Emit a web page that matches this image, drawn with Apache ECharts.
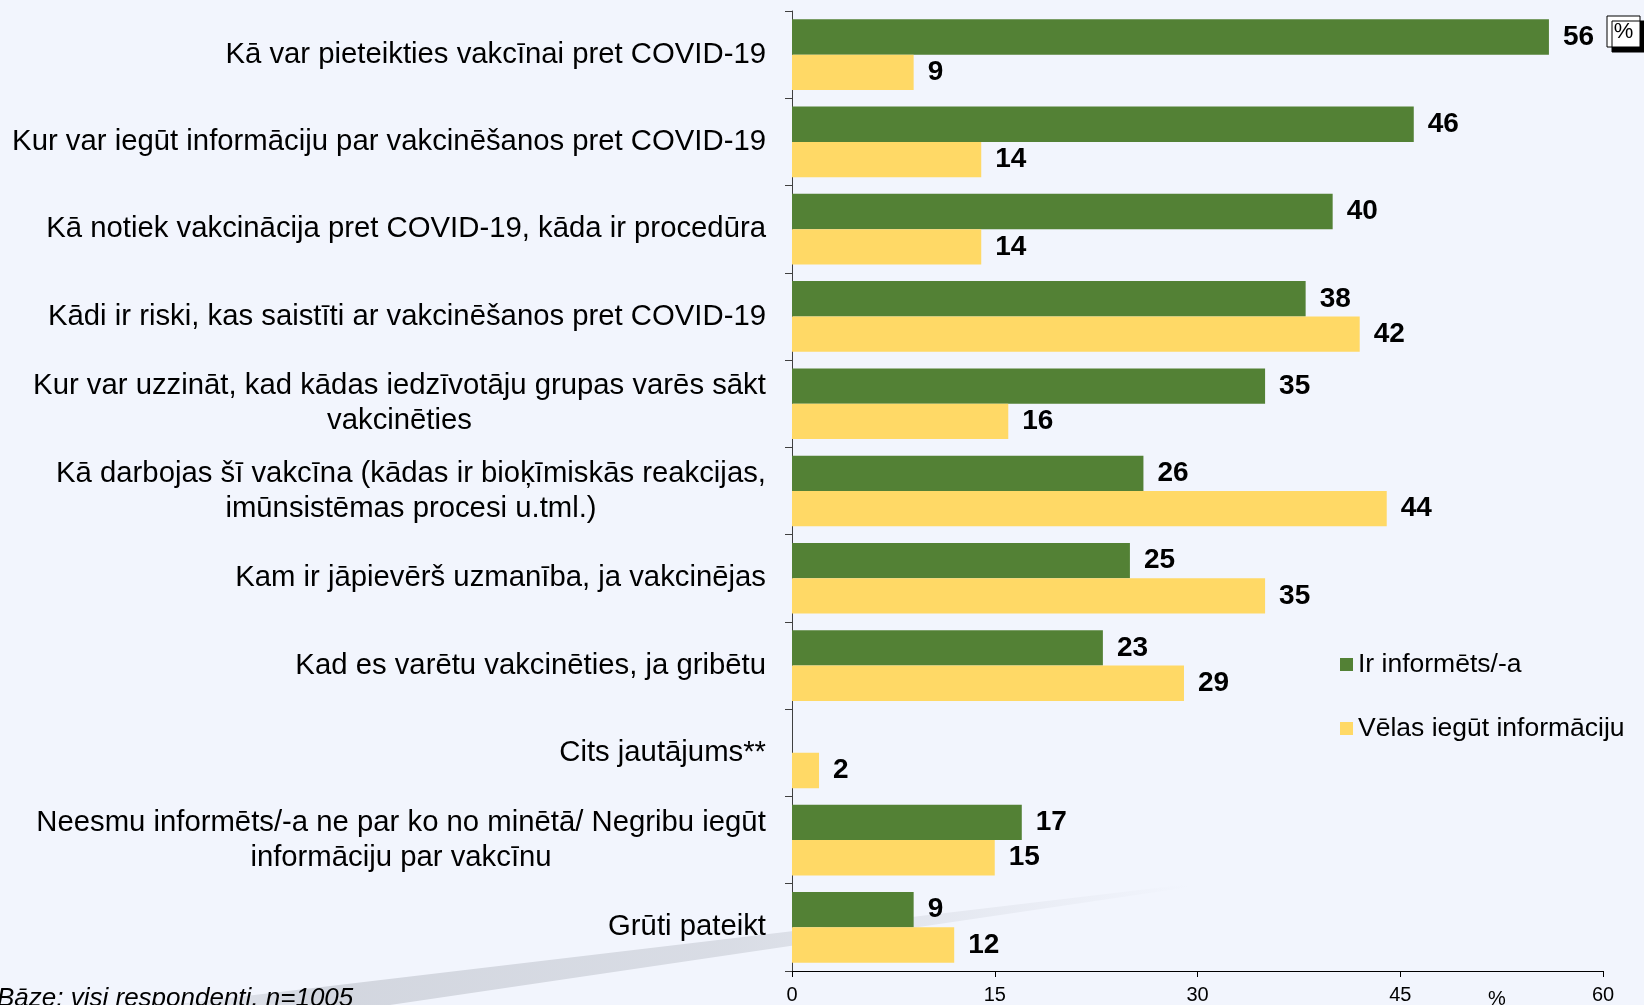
<!DOCTYPE html>
<html>
<head>
<meta charset="utf-8">
<title>COVID-19 vakcinācija – informētība</title>
<script src="https://cdn.jsdelivr.net/npm/echarts@6/dist/echarts.min.js"></script>
<style>
  html, body { margin: 0; padding: 0; background: #F2F5FD; }
  #chart { width: 1644px; height: 1005px; }
</style>
</head>
<body>
<div id="chart"></div>
<script>
// Survey answers, top to bottom
const categories = [
  'Kā var pieteikties vakcīnai pret COVID-19',
  'Kur var iegūt informāciju par vakcinēšanos pret COVID-19',
  'Kā notiek vakcinācija pret COVID-19, kāda ir procedūra',
  'Kādi ir riski, kas saistīti ar vakcinēšanos pret COVID-19',
  'Kur var uzzināt, kad kādas iedzīvotāju grupas varēs sākt\nvakcinēties',
  'Kā darbojas šī vakcīna (kādas ir bioķīmiskās reakcijas,\nimūnsistēmas procesi u.tml.)',
  'Kam ir jāpievērš uzmanība, ja vakcinējas',
  'Kad es varētu vakcinēties, ja gribētu',
  'Cits jautājums**',
  'Neesmu informēts/-a ne par ko no minētā/ Negribu iegūt\ninformāciju par vakcīnu',
  'Grūti pateikt'
];
const seriesNames = ['Ir informēts/-a', 'Vēlas iegūt informāciju'];
const informed = [56, 46, 40, 38, 35, 26, 25, 23, null, 17, 9];
const wantInfo = [9, 14, 14, 42, 16, 44, 35, 29, 2, 15, 12];
const axisMin = 0, axisMax = 60, axisStep = 15;

const FONT = '"Liberation Sans", Arial, sans-serif';
const LABEL_SIZE = 29.3;
const LABEL_LH = 35;

// Multi-line category labels: lines centred on each other, block right-aligned
const measureCtx = document.createElement('canvas').getContext('2d');
measureCtx.font = LABEL_SIZE + 'px ' + FONT;
const rich = {};
categories.forEach((c, i) => {
  const lines = c.split('\n');
  if (lines.length > 1) {
    const w = Math.ceil(Math.max(...lines.map(l => measureCtx.measureText(l).width)));
    rich['w' + i] = {
      width: w, align: 'center', fontSize: LABEL_SIZE, lineHeight: LABEL_LH,
      fontFamily: FONT, color: '#000'
    };
  }
});

const chart = echarts.init(document.getElementById('chart'), null, { renderer: 'canvas' });

const valueLabel = {
  show: true,
  position: 'right',
  distance: 14,
  fontFamily: FONT,
  fontSize: 28,
  fontWeight: 'bold',
  color: '#000'
};

chart.setOption({
  backgroundColor: '#F2F5FD',
  animation: false,
  grid: { left: 792, right: 41, top: 11, bottom: 33 },
  legend: {
    orient: 'vertical',
    left: 1335,
    top: 646,
    itemGap: 37,
    itemWidth: 13,
    itemHeight: 13,
    icon: 'rect',
    textStyle: { fontFamily: FONT, fontSize: 26.5, lineHeight: 26, color: '#000' },
    data: seriesNames
  },
  xAxis: {
    type: 'value',
    min: axisMin,
    max: axisMax,
    interval: axisStep,
    splitLine: { show: false },
    axisLine: { show: true, lineStyle: { color: '#000', width: 1 } },
    axisTick: { show: true, length: 6, lineStyle: { color: '#000' } },
    axisLabel: { fontFamily: FONT, fontSize: 20, color: '#000', margin: 14 }
  },
  yAxis: {
    type: 'category',
    inverse: true,
    data: categories,
    axisLine: { show: true, lineStyle: { color: '#404040', width: 1 } },
    axisTick: { show: true, length: 7, lineStyle: { color: '#404040' } },
    axisLabel: {
      fontFamily: FONT,
      fontSize: LABEL_SIZE,
      lineHeight: LABEL_LH,
      color: '#000',
      margin: 26,
      interval: 0,
      formatter: (value, idx) => {
        const lines = value.split('\n');
        if (lines.length === 1) return value;
        return lines.map(l => '{w' + idx + '|' + l + '}').join('\n');
      },
      rich: rich
    }
  },
  series: [
    {
      name: seriesNames[0],
      type: 'bar',
      data: informed,
      itemStyle: { color: '#538135' },
      barGap: '0%',
      barCategoryGap: '19%',
      label: valueLabel
    },
    {
      name: seriesNames[1],
      type: 'bar',
      data: wantInfo,
      itemStyle: { color: '#FFD966' },
      barGap: '0%',
      barCategoryGap: '19%',
      label: valueLabel
    }
  ],
  graphic: [
    {
      // faint grey sweep across the lower part of the slide
      type: 'polygon',
      z: -10,
      silent: true,
      shape: { points: [[170, 1005], [1190, 884], [1190, 887], [390, 1005]] },
      style: {
        fill: new echarts.graphic.LinearGradient(0, 0, 1, 0, [
          { offset: 0, color: 'rgba(200,204,213,0.3)' },
          { offset: 0.15, color: 'rgba(200,204,213,0.75)' },
          { offset: 0.55, color: 'rgba(200,204,213,0.6)' },
          { offset: 1, color: 'rgba(200,204,213,0)' }
        ])
      }
    },
    {
      // unit badge
      type: 'rect',
      silent: true,
      shape: { x: 1607, y: 16, width: 33, height: 31 },
      style: {
        fill: '#fff', stroke: '#000', lineWidth: 1,
        shadowColor: '#000', shadowOffsetX: 5, shadowOffsetY: 5, shadowBlur: 0
      }
    },
    {
      type: 'text',
      silent: true,
      x: 1623.5, y: 31.5,
      style: {
        text: '%', font: '22px ' + FONT, fill: '#000',
        align: 'center', verticalAlign: 'middle'
      }
    },
    {
      type: 'text',
      silent: true,
      x: 1497, y: 999,
      style: {
        text: '%', font: '20px ' + FONT, fill: '#000',
        align: 'center', verticalAlign: 'middle'
      }
    },
    {
      type: 'text',
      silent: true,
      x: -3, y: 999,
      style: {
        text: 'Bāze: visi respondenti, n=1005', font: 'italic 26px ' + FONT, fill: '#000',
        align: 'left', verticalAlign: 'middle'
      }
    }
  ]
});
</script>
</body>
</html>
